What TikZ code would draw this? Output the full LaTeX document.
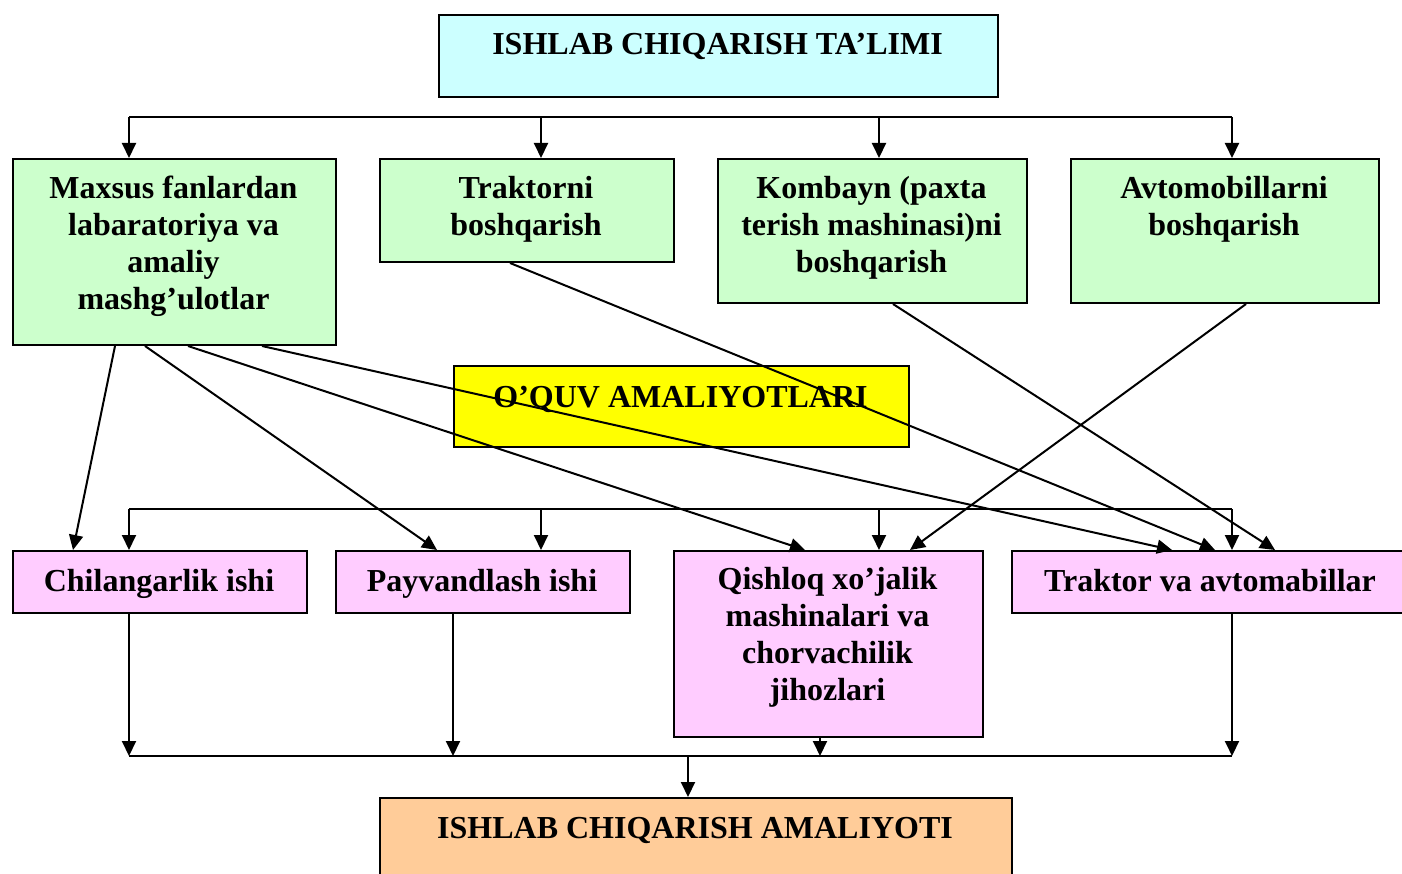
\documentclass[tikz,border=0pt]{standalone}
\usepackage{fontspec}
\setmainfont{Liberation Serif}
\usetikzlibrary{arrows.meta}
\definecolor{cyanbox}{HTML}{CCFFFF}
\definecolor{greenbox}{HTML}{CCFFCC}
\definecolor{yellowbox}{HTML}{FFFF00}
\definecolor{pinkbox}{HTML}{FFCCFF}
\definecolor{orangebox}{HTML}{FFCC99}
\tikzset{
  box/.style={draw=black, line width=2pt, rectangle, inner sep=0pt, anchor=north west},
  txt/.style={font=\fontsize{32}{37}\selectfont\bfseries, align=center, inner sep=0pt, anchor=north},
  conn/.style={draw=black, line width=2pt},
  arr/.style={conn, -{Triangle[length=15pt,width=14pt]}}
}
\begin{document}
\begin{tikzpicture}[x=1pt,y=-1pt]
\useasboundingbox (0,0) rectangle (1402,874);
\clip (0,0) rectangle (1402,874);
\fill[white] (0,0) rectangle (1402,874);

% boxes
\node[box, fill=cyanbox, minimum width=559pt, minimum height=82pt] (T) at (438,14) {};
\node[box, fill=greenbox, minimum width=323pt, minimum height=186pt] (G1) at (12,158) {};
\node[box, fill=greenbox, minimum width=294pt, minimum height=103pt] (G2) at (379,158) {};
\node[box, fill=greenbox, minimum width=309pt, minimum height=144pt] (G3) at (717,158) {};
\node[box, fill=greenbox, minimum width=308pt, minimum height=144pt] (G4) at (1070,158) {};
\node[box, fill=yellowbox, minimum width=455pt, minimum height=81pt] (Y) at (453,365) {};
\node[box, fill=pinkbox, minimum width=294pt, minimum height=62pt] (P1) at (12,550) {};
\node[box, fill=pinkbox, minimum width=294pt, minimum height=62pt] (P2) at (335,550) {};
\node[box, fill=pinkbox, minimum width=309pt, minimum height=186pt] (P3) at (673,550) {};
\node[box, fill=pinkbox, minimum width=420pt, minimum height=62pt] (P4) at (1011,550) {};
\node[box, fill=orangebox, minimum width=632pt, minimum height=100pt] (B) at (379,797) {};

% texts
\node[txt] (Tt) at (717.5,28.1) {\strut ISHLAB CHIQARISH TA’LIMI};
\node[txt] (G1t) at (173.5,172.1) {\strut Maxsus fanlardan\\\strut labaratoriya va\\\strut amaliy\\\strut mashg’ulotlar};
\node[txt] (G2t) at (526,172.1) {\strut Traktorni\\\strut boshqarish};
\node[txt] (G3t) at (871.5,172.1) {\strut Kombayn (paxta\\\strut terish mashinasi)ni\\\strut boshqarish};
\node[txt] (G4t) at (1224,172.1) {\strut Avtomobillarni\\\strut boshqarish};
\node[txt] (Yt) at (680.5,381.1) {\strut O’QUV AMALIYOTLARI};
\node[txt] (P1t) at (159,565.1) {\strut Chilangarlik ishi};
\node[txt] (P2t) at (482,565.1) {\strut Payvandlash ishi};
\node[txt] (P3t) at (827.5,563.1) {\strut Qishloq xo’jalik\\\strut mashinalari va\\\strut chorvachilik\\\strut jihozlari};
\node[txt] (P4t) at (1210,565.1) {\strut Traktor va avtomabillar};
\node[txt] (Bt) at (695,812.1) {\strut ISHLAB CHIQARISH AMALIYOTI};

% top bus
\coordinate (b1) at (129,117);
\coordinate (b2) at (541,117);
\coordinate (b3) at (879,117);
\coordinate (b4) at (1232,117);
\draw[conn] (b1) -- (b4);
\draw[arr] (b1) -- (b1 |- G1.north);
\draw[arr] (b2) -- (b2 |- G2.north);
\draw[arr] (b3) -- (b3 |- G3.north);
\draw[arr] (b4) -- (b4 |- G4.north);

% middle bus
\coordinate (c1) at (129,509);
\coordinate (c2) at (541,509);
\coordinate (c3) at (879,509);
\coordinate (c4) at (1232,509);
\draw[conn] (c1) -- (c4);
\draw[arr] (c1) -- (c1 |- P1.north);
\draw[arr] (c2) -- (c2 |- P2.north);
\draw[arr] (c3) -- (c3 |- P3.north);
\draw[arr] (c4) -- (c4 |- P4.north);

% diagonals
\draw[arr] ([xshift=103pt]G1.south west) -- ([xshift=61pt]P1.north west);
\draw[arr] ([xshift=133pt]G1.south west) -- ([xshift=102pt]P2.north west);
\draw[arr] ([xshift=176pt]G1.south west) -- ([xshift=132pt]P3.north west);
\draw[arr] ([xshift=250pt]G1.south west) -- ([xshift=161pt]P4.north west);
\draw[arr] ([xshift=131pt]G2.south west) -- ([xshift=204pt]P4.north west);
\draw[arr] ([xshift=176pt]G3.south west) -- ([xshift=264pt]P4.north west);
\draw[arr] ([xshift=176pt]G4.south west) -- ([xshift=237pt]P3.north west);

% bottom bus
\coordinate (d1) at (129,756);
\coordinate (d2) at (453,756);
\coordinate (d3) at (820,756);
\coordinate (d4) at (1232,756);
\coordinate (dm) at (688,756);
\draw[conn] (d1) -- (d4);
\draw[arr] (d1 |- P1.south) -- (d1);
\draw[arr] (d2 |- P2.south) -- (d2);
\draw[arr] (d3 |- P3.south) -- (d3);
\draw[arr] (d4 |- P4.south) -- (d4);
\draw[arr] (dm) -- (dm |- B.north);
\end{tikzpicture}
\end{document}
